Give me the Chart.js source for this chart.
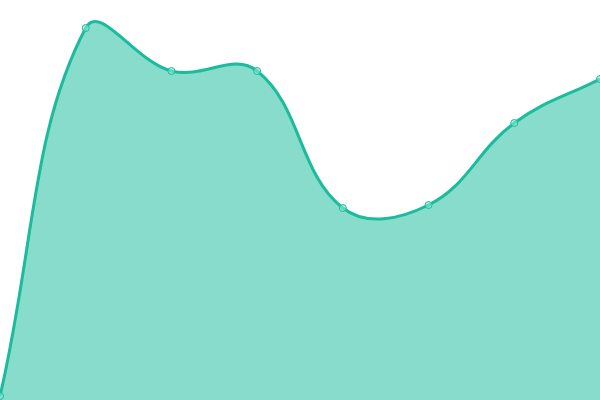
<!DOCTYPE html>
<html><head><meta charset="utf-8">
<script src="https://cdn.jsdelivr.net/npm/chart.js@4"></script>
<style>html,body{margin:0;padding:0;background:#fff}#wrap{width:600px;height:400px}</style>
</head><body><div id="wrap"><canvas id="c"></canvas></div>
<script>
const labels = ["1","2","3","4","5","6","7","8"];
const values = [4, 372, 329, 329, 192, 195, 277, 321];
new Chart(document.getElementById('c'), {
  type: 'line',
  data: { labels: labels, datasets: [{
    data: values,
    borderColor: '#1abc9c',
    backgroundColor: 'rgba(26,188,156,0.52)',
    borderWidth: 3,
    fill: true,
    tension: 0.4,
    pointRadius: 3.5,
    pointBorderWidth: 1,
    pointBackgroundColor: 'rgba(140,230,210,0.6)',
    pointBorderColor: '#1abc9c'
  }]},
  options: {
    responsive: true, maintainAspectRatio: false, animation: false,
    layout: { padding: 0, autoPadding: false },
    plugins: { legend: { display: false }, tooltip: { enabled: false } },
    scales: {
      x: { display: false, offset: false },
      y: { display: false, min: 0, max: 400 }
    }
  }
});
</script></body></html>
